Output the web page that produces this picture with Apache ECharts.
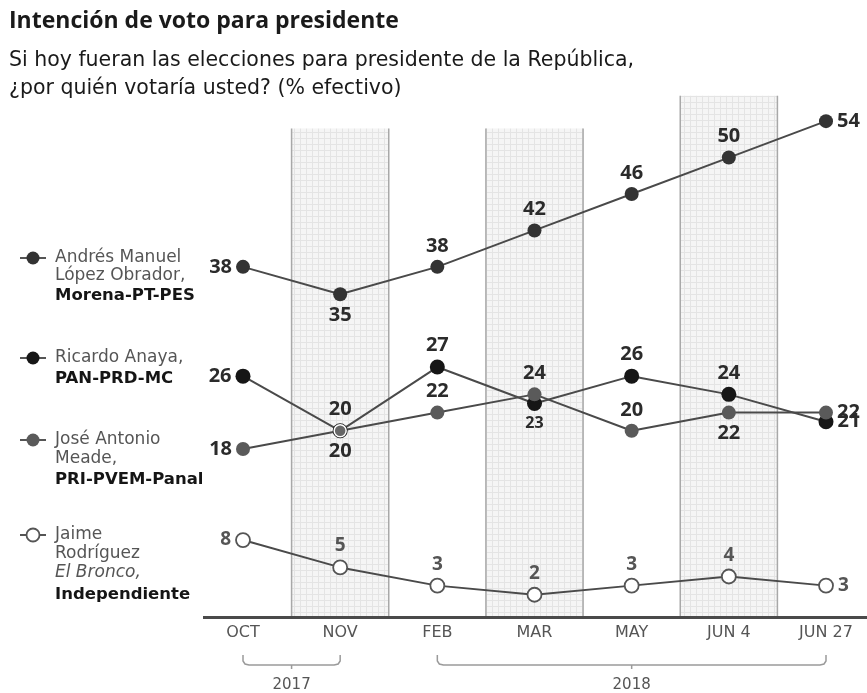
<!DOCTYPE html>
<html>
<head>
<meta charset="utf-8">
<script src="https://cdn.jsdelivr.net/npm/echarts@6/dist/echarts.min.js"></script>
<style>
html,body{margin:0;padding:0;background:#fff;}
#chart{width:867px;height:693px;}
</style>
</head>
<body>
<div id="chart"></div>
<script>
// ---- data ----
const categories = ['OCT', 'NOV', 'FEB', 'MAR', 'MAY', 'JUN 4', 'JUN 27'];
const amlo   = [38, 35, 38, 42, 46, 50, 54];
const anaya  = [26, 20, 27, 23, 26, 24, 21];
const meade  = [18, 20, 22, 24, 20, 22, 22];
const bronco = [8, 5, 3, 2, 3, 4, 3];
const bandCats = ['NOV', 'MAR', 'JUN 4'];
const bandTops = [53.2, 53.2, 56.8];
const yearGroups = [
  { label: '2017', from: 'OCT', to: 'NOV' },
  { label: '2018', from: 'FEB', to: 'JUN 27' }
];

// ---- label placement (style) ----
const amloPos   = ['left', 'bottom', 'top', 'top', 'top', 'top', 'right'];
const anayaPos  = ['left', 'top', 'top', 'bottom', 'top', 'top', 'right'];
const meadePos  = ['left', 'bottom', 'top', 'top', 'top', 'bottom', 'right'];
const broncoPos = ['left', 'top', 'top', 'top', 'top', 'top', 'right'];

const FONT = '"Open Sans", "Noto Sans", sans-serif';
const WIDE = '"DejaVu Sans", sans-serif';
const Y_MIN = -0.5;

const chart = echarts.init(document.getElementById('chart'));

// grid pattern for shaded bands
const pat = document.createElement('canvas');
pat.width = 6; pat.height = 6;
const pctx = pat.getContext('2d');
pctx.fillStyle = '#f5f5f5';
pctx.fillRect(0, 0, 6, 6);
pctx.fillStyle = '#e4e4e4';
pctx.fillRect(0, 0, 6, 1);
pctx.fillRect(0, 0, 1, 6);

function mkData(vals, pos, extra) {
  return vals.map((v, i) => {
    const d = { value: v, label: { position: pos[i] } };
    if (extra && extra[i]) Object.assign(d, extra[i]);
    return d;
  });
}

const labelBase = {
  show: true,
  fontFamily: FONT,
  fontWeight: 'bold',
  fontSize: 20,
  color: '#2b2b2b',
  distance: 4
};

const anayaData = mkData(anaya, anayaPos, { 3: { label: { position: 'bottom', fontSize: 16 } } });
const meadeData = mkData(meade, meadePos, { 1: { symbolSize: 12, itemStyle: { color: '#666', borderColor: '#fff', borderWidth: 1.5 } } });

const lineCommon = {
  type: 'line',
  symbol: 'circle',
  symbolSize: 14,
  lineStyle: { color: '#4a4a4a', width: 2 },
  z: 3,
  animation: false
};

const option = {
  backgroundColor: '#fff',
  animation: false,
  title: {
    text: 'Intención de voto para presidente',
    subtext: 'Si hoy fueran las elecciones para presidente de la República,\n¿por quién votaría usted? (% efectivo)',
    left: 4,
    top: 5,
    itemGap: 14,
    textStyle: { fontFamily: FONT, fontWeight: 'bold', fontSize: 23, color: '#1a1a1a' },
    subtextStyle: { fontFamily: WIDE, fontSize: 20.5, color: '#1a1a1a', lineHeight: 28 }
  },
  grid: { left: 243, right: 41, top: 66.5, bottom: 75.5, containLabel: false },
  xAxis: {
    type: 'category',
    data: categories,
    boundaryGap: false,
    axisLine: { show: false },
    axisTick: { show: false },
    axisLabel: { fontFamily: WIDE, fontSize: 16, color: '#555', margin: 7 },
    splitLine: { show: false }
  },
  yAxis: {
    type: 'value',
    min: Y_MIN,
    max: 60,
    show: false
  },
  series: [
    {
      type: 'custom',
      z: 1,
      silent: true,
      data: bandCats.map((c, i) => [c, bandTops[i]]),
      renderItem: function (params, api) {
        const top = api.coord([api.value(0), api.value(1)]);
        const bot = api.coord([api.value(0), Y_MIN]);
        const w = api.size([1, 0])[0];
        const x0 = top[0] - w / 2, x1 = top[0] + w / 2;
        return {
          type: 'group',
          children: [
            { type: 'rect', shape: { x: x0, y: top[1], width: w, height: bot[1] - top[1] },
              style: { fill: { image: pat, repeat: 'repeat' } } },
            { type: 'line', shape: { x1: x0, y1: top[1], x2: x0, y2: bot[1] }, style: { stroke: '#a8a8a8', lineWidth: 1.5 } },
            { type: 'line', shape: { x1: x1, y1: top[1], x2: x1, y2: bot[1] }, style: { stroke: '#a8a8a8', lineWidth: 1.5 } }
          ]
        };
      }
    },
    Object.assign({}, lineCommon, {
      name: 'Andrés Manuel López Obrador',
      data: mkData(amlo, amloPos),
      itemStyle: { color: '#333' },
      label: labelBase
    }),
    Object.assign({}, lineCommon, {
      name: 'Ricardo Anaya',
      data: anayaData,
      symbolSize: 15,
      itemStyle: { color: '#161616' },
      label: labelBase
    }),
    Object.assign({}, lineCommon, {
      name: 'José Antonio Meade',
      data: meadeData,
      itemStyle: { color: '#5a5a5a' },
      label: labelBase
    }),
    Object.assign({}, lineCommon, {
      name: 'Jaime Rodríguez',
      data: mkData(bronco, broncoPos),
      symbol: 'circle',
      itemStyle: { color: '#fff', borderColor: '#555', borderWidth: 1.8 },
      label: Object.assign({}, labelBase, { color: '#555', fontSize: 19 })
    })
  ]
};

chart.setOption(option);

// ---- decorations: left legend, axis line, year brackets ----
function legendRow(y, fill, stroke, hollow) {
  return [
    { type: 'line', shape: { x1: 20, y1: y, x2: 46, y2: y }, style: { stroke: '#555', lineWidth: 2 } },
    { type: 'circle', shape: { cx: 33, cy: y, r: 6.5 },
      style: { fill: hollow ? '#fff' : fill, stroke: stroke, lineWidth: hollow ? 1.8 : 0 } }
  ];
}
function T(x, y, s, extra) {
  return {
    type: 'text', x: x, y: y,
    style: Object.assign({ text: s, fontFamily: WIDE, fontSize: 17, fill: '#555', textVerticalAlign: 'middle' }, extra || {})
  };
}
const nameT = (x, y, s) => T(x, y, s);
const boldT = (x, y, s) => T(x, y, s, { fontWeight: 'bold', fill: '#151515', fontSize: 16.5 });
const italT = (x, y, s) => T(x, y, s, { fontStyle: 'italic' });

const lx = 55;
let g = [];
g = g.concat(legendRow(258, '#333', '#333', false));
g.push(nameT(lx, 258, 'Andrés Manuel'), nameT(lx, 276, 'López Obrador,'), boldT(lx, 296, 'Morena-PT-PES'));
g = g.concat(legendRow(358, '#161616', '#161616', false));
g.push(nameT(lx, 358, 'Ricardo Anaya,'), boldT(lx, 379, 'PAN-PRD-MC'));
g = g.concat(legendRow(440, '#5a5a5a', '#5a5a5a', false));
g.push(nameT(lx, 440, 'José Antonio'), nameT(lx, 459, 'Meade,'), boldT(lx, 480, 'PRI-PVEM-Panal'));
g = g.concat(legendRow(535, '#fff', '#555', true));
g.push(nameT(lx, 535, 'Jaime'), nameT(lx, 554, 'Rodríguez'), italT(lx, 573, 'El Bronco,'), boldT(lx, 595, 'Independiente'));

const axisY = chart.convertToPixel({ yAxisIndex: 0 }, Y_MIN);
g.push({ type: 'line', shape: { x1: 203, y1: axisY, x2: 867, y2: axisY }, style: { stroke: '#4a4a4a', lineWidth: 3 }, z: 10 });

yearGroups.forEach(yg => {
  const xa = chart.convertToPixel({ xAxisIndex: 0 }, yg.from);
  const xb = chart.convertToPixel({ xAxisIndex: 0 }, yg.to);
  const y0 = 655, y1 = 665, xm = (xa + xb) / 2;
  const pts = [[xa, y0], [xa, y1 - 4], [xa + 2, y1 - 1], [xa + 6, y1], [xb - 6, y1], [xb - 2, y1 - 1], [xb, y1 - 4], [xb, y0]];
  g.push({ type: 'polyline', shape: { points: pts }, style: { stroke: '#9a9a9a', lineWidth: 1.5, fill: null } });
  g.push({ type: 'line', shape: { x1: xm, y1: y1, x2: xm, y2: y1 + 4 }, style: { stroke: '#9a9a9a', lineWidth: 1.5 } });
  g.push({ type: 'text', x: xm, y: 685, style: { text: yg.label, fontFamily: WIDE, fontSize: 15, fill: '#555', textAlign: 'center', textVerticalAlign: 'middle' } });
});

chart.setOption({ graphic: { elements: g } });
</script>
</body>
</html>
